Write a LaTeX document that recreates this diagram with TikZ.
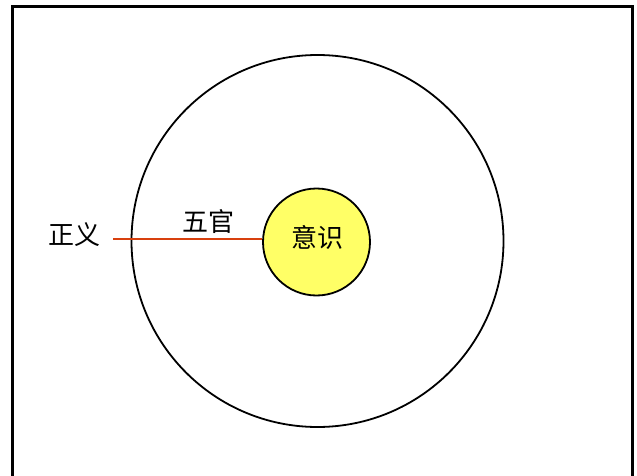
\documentclass[tikz,border=0pt]{standalone}
\usepackage{fontspec}
\newfontfamily\cjk{Noto Sans CJK SC}
\definecolor{ballyellow}{HTML}{FFFF66}
\definecolor{linered}{HTML}{D8400E}
\tikzset{
  lbl/.style={font=\cjk\fontsize{26}{30}\selectfont, inner sep=0pt},
  ring/.style={draw=black, line width=1.8pt}
}
\begin{document}
\begin{tikzpicture}[x=1pt,y=-1pt]
\useasboundingbox (0,0) rectangle (637,476);
\begin{scope}
\clip (0,0) rectangle (637,476);
\draw[line width=3pt] (12.5,490) -- (12.5,6.5) -- (632.5,6.5) -- (632.5,490);
\end{scope}
\node[ring, circle, minimum size=372pt, inner sep=0pt] (outer) at (317.5,241) {};
\node[ring, circle, fill=ballyellow, minimum size=107pt, inner sep=0pt] (core) at (316.5,242) {};
\node[lbl] (yishi) at (317,237) {意识};
\node[lbl] (zhengyi) at (74,235) {正义};
\node[lbl] (wuguan) at (208,222) {五官};
\coordinate (start) at (113,239);
\draw[linered, line width=2pt] (start) -- (core.west |- start);
\end{tikzpicture}
\end{document}
